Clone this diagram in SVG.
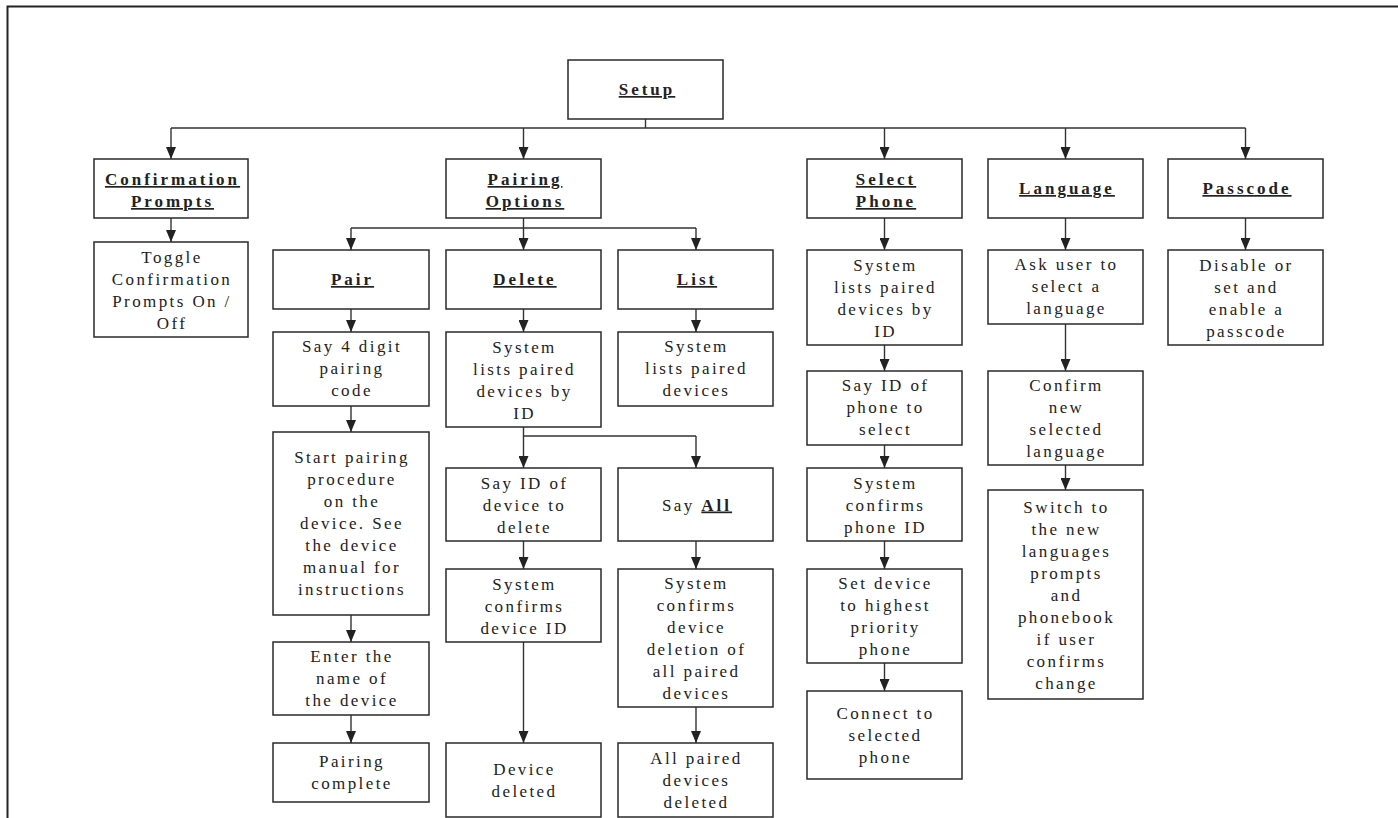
<svg xmlns="http://www.w3.org/2000/svg" width="1398" height="818" viewBox="0 0 1398 818">
<style>
.frame{stroke:#222;stroke-width:2;fill:none}
.box{fill:#fff;stroke:#2a2a2a;stroke-width:1.5}
text{font-size:17px;letter-spacing:2.4px;fill:#222;text-anchor:middle}
.h{font-weight:bold;letter-spacing:3px;text-decoration:underline}
.b{font-weight:bold;letter-spacing:3px;text-decoration:underline}
.c{stroke:#333;stroke-width:1.4;fill:none}
.a{marker-end:url(#arr)}
</style>
<defs>
<marker id="arr" markerUnits="userSpaceOnUse" markerWidth="12" markerHeight="10" refX="12" refY="5" orient="auto">
<path d="M0,0 L12,5 L0,10 z" fill="#222"/>
</marker>
</defs>
<rect width="1398" height="818" fill="#fff"/>
<g id="frame">
<path class="frame" d="M7.5,818 V6.5 H1398"/>
</g>
<g id="connectors">
<path class="c" d="M645.5,119 V128 M171,128 H1245.5"/>
<path class="c a" d="M171,128 V159"/>
<path class="c a" d="M523.5,128 V159"/>
<path class="c a" d="M884.5,128 V159"/>
<path class="c a" d="M1065.5,128 V159"/>
<path class="c a" d="M1245.5,128 V159"/>
<path class="c a" d="M171,218 V242"/>
<path class="c" d="M523.5,218 V228 M351,228 H696"/>
<path class="c a" d="M351,228 V250"/>
<path class="c a" d="M523.5,228 V250"/>
<path class="c a" d="M696,228 V250"/>
<path class="c a" d="M351,309 V332"/>
<path class="c a" d="M351,406 V432"/>
<path class="c a" d="M351,615 V642"/>
<path class="c a" d="M351,715 V743"/>
<path class="c a" d="M523.5,309 V332"/>
<path class="c" d="M523.5,427 V436 H696"/>
<path class="c a" d="M523.5,436 V468"/>
<path class="c a" d="M696,436 V468"/>
<path class="c a" d="M523.5,541 V569"/>
<path class="c a" d="M523.5,642 V743"/>
<path class="c a" d="M696,309 V332"/>
<path class="c a" d="M696,541 V569"/>
<path class="c a" d="M696,707 V743"/>
<path class="c a" d="M884.5,218 V250"/>
<path class="c a" d="M884.5,345 V371"/>
<path class="c a" d="M884.5,445 V468"/>
<path class="c a" d="M884.5,541 V569"/>
<path class="c a" d="M884.5,663 V691"/>
<path class="c a" d="M1065.5,218 V250"/>
<path class="c a" d="M1065.5,324 V371"/>
<path class="c a" d="M1065.5,465 V490"/>
<path class="c a" d="M1245.5,218 V250"/>
</g>
<g id="nodes" font-family="Liberation Serif, Times New Roman, serif">
<g id="setup"><rect class="box" x="568" y="60" width="155" height="59"/><text class="h" x="647" y="95">Setup</text></g>
<g id="confirmation"><rect class="box" x="94" y="159" width="154" height="59"/><text class="h" x="172.5" y="185">Confirmation</text><text class="h" x="172.5" y="207">Prompts</text></g>
<g id="toggle"><rect class="box" x="94" y="242" width="154" height="95"/><text x="172" y="262.5">Toggle</text><text x="172" y="284.5">Confirmation</text><text x="172" y="306.5">Prompts On /</text><text x="172" y="328.5">Off</text></g>
<g id="pairing-options"><rect class="box" x="446" y="159" width="155" height="59"/><text class="h" x="525" y="185">Pairing</text><text class="h" x="525" y="207">Options</text></g>
<g id="pair"><rect class="box" x="273" y="250" width="156" height="59"/><text class="h" x="352.5" y="285">Pair</text></g>
<g id="pair-code"><rect class="box" x="273" y="332" width="156" height="74"/><text x="352" y="352">Say 4 digit</text><text x="352" y="374">pairing</text><text x="352" y="396">code</text></g>
<g id="pair-start"><rect class="box" x="273" y="432" width="156" height="183"/><text x="352" y="463">Start pairing</text><text x="352" y="485">procedure</text><text x="352" y="507">on the</text><text x="352" y="529">device. See</text><text x="352" y="551">the device</text><text x="352" y="573">manual for</text><text x="352" y="595">instructions</text></g>
<g id="pair-name"><rect class="box" x="273" y="642" width="156" height="73"/><text x="352" y="662">Enter the</text><text x="352" y="684">name of</text><text x="352" y="706">the device</text></g>
<g id="pair-complete"><rect class="box" x="273" y="743" width="156" height="59"/><text x="352" y="767">Pairing</text><text x="352" y="789">complete</text></g>
<g id="delete"><rect class="box" x="446" y="250" width="155" height="59"/><text class="h" x="525" y="285">Delete</text></g>
<g id="delete-list"><rect class="box" x="446" y="332" width="155" height="95"/><text x="524.5" y="352.5">System</text><text x="524.5" y="374.5">lists paired</text><text x="524.5" y="396.5">devices by</text><text x="524.5" y="418.5">ID</text></g>
<g id="delete-say-id"><rect class="box" x="446" y="468" width="155" height="73"/><text x="524.5" y="488.5">Say ID of</text><text x="524.5" y="510.5">device to</text><text x="524.5" y="532.5">delete</text></g>
<g id="delete-confirm"><rect class="box" x="446" y="569" width="155" height="73"/><text x="524.5" y="589.5">System</text><text x="524.5" y="611.5">confirms</text><text x="524.5" y="633.5">device ID</text></g>
<g id="device-deleted"><rect class="box" x="446" y="743" width="155" height="74"/><text x="524.5" y="775">Device</text><text x="524.5" y="797">deleted</text></g>
<g id="list"><rect class="box" x="618" y="250" width="155" height="59"/><text class="h" x="697" y="285">List</text></g>
<g id="list-system"><rect class="box" x="618" y="332" width="155" height="74"/><text x="696.5" y="352">System</text><text x="696.5" y="374">lists paired</text><text x="696.5" y="396">devices</text></g>
<g id="say-all"><rect class="box" x="618" y="468" width="155" height="73"/><text x="697" y="510.5">Say <tspan class="b">All</tspan></text></g>
<g id="all-confirm"><rect class="box" x="618" y="569" width="155" height="138"/><text x="696.5" y="589">System</text><text x="696.5" y="611">confirms</text><text x="696.5" y="633">device</text><text x="696.5" y="655">deletion of</text><text x="696.5" y="677">all paired</text><text x="696.5" y="699">devices</text></g>
<g id="all-deleted"><rect class="box" x="618" y="743" width="155" height="74"/><text x="696.5" y="764">All paired</text><text x="696.5" y="786">devices</text><text x="696.5" y="808">deleted</text></g>
<g id="select-phone"><rect class="box" x="807" y="159" width="155" height="59"/><text class="h" x="886" y="185">Select</text><text class="h" x="886" y="207">Phone</text></g>
<g id="sp-list"><rect class="box" x="807" y="250" width="155" height="95"/><text x="885.5" y="270.5">System</text><text x="885.5" y="292.5">lists paired</text><text x="885.5" y="314.5">devices by</text><text x="885.5" y="336.5">ID</text></g>
<g id="sp-say-id"><rect class="box" x="807" y="371" width="155" height="74"/><text x="885.5" y="391">Say ID of</text><text x="885.5" y="413">phone to</text><text x="885.5" y="435">select</text></g>
<g id="sp-confirm"><rect class="box" x="807" y="468" width="155" height="73"/><text x="885.5" y="488.5">System</text><text x="885.5" y="510.5">confirms</text><text x="885.5" y="532.5">phone ID</text></g>
<g id="sp-priority"><rect class="box" x="807" y="569" width="155" height="94"/><text x="885.5" y="589">Set device</text><text x="885.5" y="611">to highest</text><text x="885.5" y="633">priority</text><text x="885.5" y="655">phone</text></g>
<g id="sp-connect"><rect class="box" x="807" y="691" width="155" height="88"/><text x="885.5" y="719">Connect to</text><text x="885.5" y="741">selected</text><text x="885.5" y="763">phone</text></g>
<g id="language"><rect class="box" x="988" y="159" width="155" height="59"/><text class="h" x="1067" y="194">Language</text></g>
<g id="lang-ask"><rect class="box" x="988" y="250" width="155" height="74"/><text x="1066.5" y="270">Ask user to</text><text x="1066.5" y="292">select a</text><text x="1066.5" y="314">language</text></g>
<g id="lang-confirm"><rect class="box" x="988" y="371" width="155" height="94"/><text x="1066.5" y="391">Confirm</text><text x="1066.5" y="413">new</text><text x="1066.5" y="435">selected</text><text x="1066.5" y="457">language</text></g>
<g id="lang-switch"><rect class="box" x="988" y="490" width="155" height="209"/><text x="1066.5" y="512.5">Switch to</text><text x="1066.5" y="534.5">the new</text><text x="1066.5" y="556.5">languages</text><text x="1066.5" y="578.5">prompts</text><text x="1066.5" y="600.5">and</text><text x="1066.5" y="622.5">phonebook</text><text x="1066.5" y="644.5">if user</text><text x="1066.5" y="666.5">confirms</text><text x="1066.5" y="688.5">change</text></g>
<g id="passcode"><rect class="box" x="1168" y="159" width="155" height="59"/><text class="h" x="1247" y="194">Passcode</text></g>
<g id="pass-disable"><rect class="box" x="1168" y="250" width="155" height="95"/><text x="1246.5" y="270.5">Disable or</text><text x="1246.5" y="292.5">set and</text><text x="1246.5" y="314.5">enable a</text><text x="1246.5" y="336.5">passcode</text></g>
</g>
</svg>
